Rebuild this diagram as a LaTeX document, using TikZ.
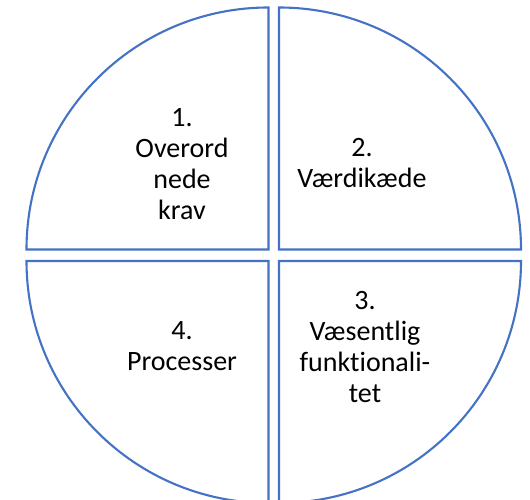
\documentclass[tikz,border=0pt]{standalone}
\usepackage{fontspec}
\setmainfont{Carlito}[Ligatures={NoCommon}]
\definecolor{pieblue}{RGB}{68,114,196}
\begin{document}
\begin{tikzpicture}[x=1pt,y=1pt,
  sector/.style={draw=pieblue, line width=2.1pt, fill=white, line join=miter},
  lbl/.style={align=center, font=\fontsize{28}{31}\selectfont, inner sep=0pt}]
\useasboundingbox (0,0) rectangle (530,500);
% quadrants
\draw[sector] (268.5,250.5) -- (26.5,250.5) arc[start angle=180, end angle=90, radius=242] -- cycle;
\draw[sector] (279,250.5) -- (279,492.5) arc[start angle=90, end angle=0, radius=242] -- cycle;
\draw[sector] (279,239) -- (521,239) arc[start angle=0, end angle=-90, radius=242] -- cycle;
\draw[sector] (268.5,239) -- (268.5,-3) arc[start angle=270, end angle=180, radius=242] -- cycle;
% labels
\node[lbl] (q1) at (182,336) {1.\\Overord\\nede\\krav};
\node[lbl] (q2) at (362,337) {2.\\Værdikæde};
\node[lbl] (q3) at (365,153) {3.\\Væsentlig\\funktionali-\\tet};
\node[lbl] (q4) at (182,154) {4.\\Processer};
\end{tikzpicture}
\end{document}
